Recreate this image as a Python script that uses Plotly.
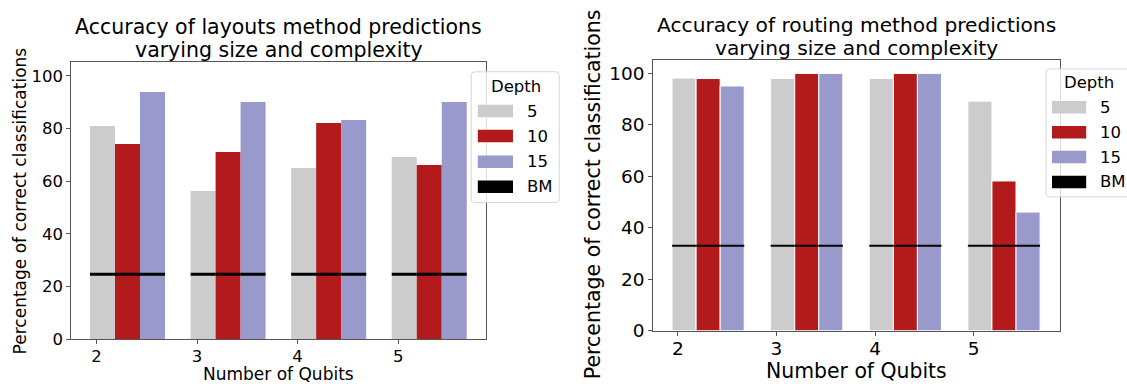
import plotly.graph_objects as go

W, H = 1127, 384

qubits = [2, 3, 4, 5]
tick_labels = ["2", "3", "4", "5"]
depth_names = ["5", "10", "15"]
bm_name = "BM"
colors = ["#cccccc", "#b21a1c", "#9999cc"]
bm_color = "#000000"

layout_d5 = [81.0, 56.3, 65.0, 69.2]
layout_d10 = [74.1, 71.1, 82.1, 66.2]
layout_d15 = [93.9, 90.1, 83.3, 90.1]
layout_bm = 24.6

routing_d5 = [98.2, 98.0, 98.0, 89.2]
routing_d10 = [98.0, 100.0, 100.0, 58.2]
routing_d15 = [95.1, 100.0, 100.0, 46.1]
routing_bm = 33.0

FONT = "DejaVu Sans"


def px(x):
    return x / W


def py(y):
    return 1 - y / H


fig = go.Figure()


def add_panel(series, bm, xa, ya, start, width, edge, bm_w):
    for k, vals in enumerate(series):
        fig.add_trace(go.Bar(
            x=qubits, y=vals, width=width, offset=start + k * width,
            name=depth_names[k],
            marker=dict(color=colors[k], line=dict(color="white", width=edge)),
            xaxis=xa, yaxis=ya, showlegend=False,
        ))
    xs, ys = [], []
    for q in qubits:
        for k in range(len(series)):
            x0 = q + start + k * width
            xs += [x0, x0 + width, None]
            ys += [bm, bm, None]
    fig.add_trace(go.Scatter(
        x=xs, y=ys, mode="lines", name=bm_name,
        line=dict(color=bm_color, width=bm_w),
        xaxis=xa, yaxis=ya, showlegend=False, hoverinfo="skip",
    ))


add_panel([layout_d5, layout_d10, layout_d15], layout_bm, "x", "y",
          -0.064, 0.2485, 0, 3)
add_panel([routing_d5, routing_d10, routing_d15], routing_bm, "x2", "y2",
          -0.059, 0.244, 1, 2)

axis_common = dict(showline=True, mirror=True, linecolor="#555555", linewidth=1.3,
                   ticks="outside", ticklen=4, tickcolor="#555555", tickwidth=1.2,
                   showgrid=False, zeroline=False)

fig.update_layout(
    width=W, height=H,
    margin=dict(l=0, r=0, t=0, b=0, autoexpand=False),
    paper_bgcolor="white", plot_bgcolor="white",
    barmode="overlay", showlegend=False,
    font=dict(family=FONT, color="#000000"),
    xaxis=dict(domain=[px(71.4), px(485.7)], range=[1.751, 5.870], anchor="y",
               tickvals=qubits, ticktext=tick_labels, tickfont=dict(size=16.5),
               ticklabelstandoff=-2, **axis_common),
    yaxis=dict(domain=[py(339), py(62.3)], range=[0, 105.2], anchor="x",
               tickvals=[0, 20, 40, 60, 80, 100], tickfont=dict(size=16.5),
               **axis_common),
    xaxis2=dict(domain=[px(653.3), px(1059.8)], range=[1.751, 5.873], anchor="y2",
                tickvals=qubits, ticktext=tick_labels, tickfont=dict(size=18.5),
                ticklabelstandoff=-3, **axis_common),
    yaxis2=dict(domain=[py(330.7), py(60)], range=[0, 105.2], anchor="x2",
                tickvals=[0, 20, 40, 60, 80, 100], tickfont=dict(size=18.5),
                **axis_common),
)

annotations = []
shapes = []


def text(x, y, s, size, xanchor="center", angle=0):
    annotations.append(dict(x=px(x), y=py(y), xref="paper", yref="paper", text=s,
                            showarrow=False, xanchor=xanchor, yanchor="middle",
                            textangle=angle, borderpad=0,
                            font=dict(size=size, family=FONT, color="#000000")))


# titles
text(278.6, 26.7, "Accuracy of layouts method predictions", 20.5)
text(278.6, 50.0, "varying size and complexity", 20.5)
text(856.6, 25.0, "Accuracy of routing method predictions", 20.2)
text(856.6, 48.3, "varying size and complexity", 20.2)
# axis titles
text(278.6, 374.0, "Number of Qubits", 17)
text(856.6, 371.0, "Number of Qubits", 20.4)
text(19.6, 200.8, "Percentage of correct classifications", 17, angle=-90)
text(592.5, 194.7, "Percentage of correct classifications", 20.5, angle=-90)


def rounded_rect(x0, y0, x1, y1, r):
    rx, ry = r / W, r / H
    X0, X1, Y0, Y1 = px(x0), px(x1), py(y0), py(y1)  # Y0 top, Y1 bottom
    return (f"M {X0 + rx},{Y0} L {X1 - rx},{Y0} Q {X1},{Y0} {X1},{Y0 - ry} "
            f"L {X1},{Y1 + ry} Q {X1},{Y1} {X1 - rx},{Y1} "
            f"L {X0 + rx},{Y1} Q {X0},{Y1} {X0},{Y1 + ry} "
            f"L {X0},{Y0 - ry} Q {X0},{Y0} {X0 + rx},{Y0} Z")


def legend(x0, y0, x1, y1, title_cx, title_cy, sw_x0, sw_x1, ys, tx):
    shapes.append(dict(type="path", xref="paper", yref="paper",
                       path=rounded_rect(x0, y0, x1, y1, 3.5),
                       fillcolor="rgba(255,255,255,0.8)", line=dict(color="#d6d6d6", width=1)))
    text(title_cx, title_cy, "Depth", 16.5)
    labels = depth_names + [bm_name]
    cols = colors + [bm_color]
    for yc, lab, col in zip(ys, labels, cols):
        shapes.append(dict(type="rect", xref="paper", yref="paper",
                           x0=px(sw_x0), x1=px(sw_x1), y0=py(yc - 6.2), y1=py(yc + 6.2),
                           fillcolor=col, line=dict(width=0)))
        text(tx, yc, lab, 16.5, xanchor="left")


legend(471.2, 71.8, 559.3, 202.5, 515.5, 86, 477.8, 513, [111, 136, 161.7, 186.7], 526)
legend(1046, 69, 1140, 196.8, 1089, 82.3, 1052, 1086.2, [107.3, 132.3, 157, 182], 1099)

fig.update_layout(annotations=annotations, shapes=shapes)
fig.write_html("out.html")
